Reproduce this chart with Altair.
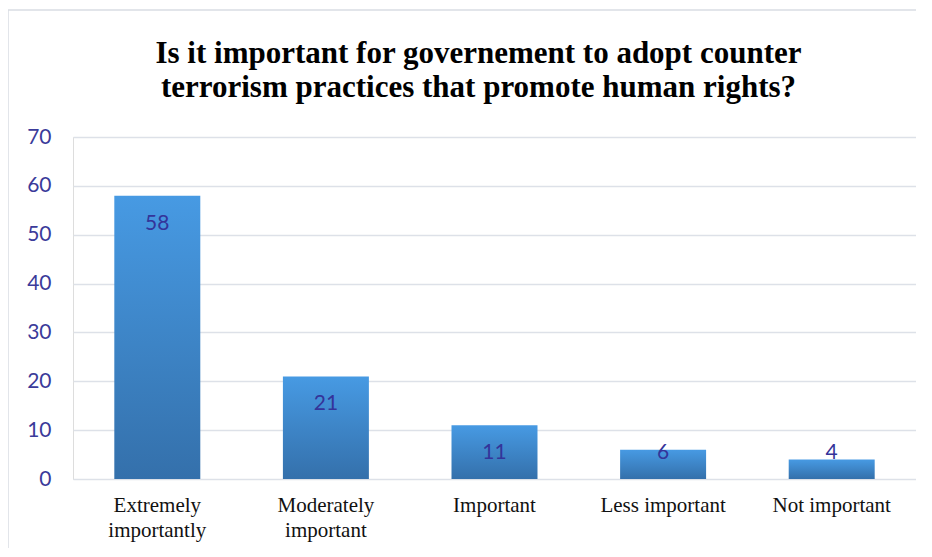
import altair as alt
import pandas as pd

categories = ["Extremely|importantly", "Moderately|important", "Important", "Less important", "Not important"]
values = [58, 21, 11, 6, 4]
title_lines = ["Is it important for governement to adopt counter",
               "terrorism practices that promote human rights?"]

df = pd.DataFrame({"cat": categories, "val": values})

W, H = 843, 342

x = alt.X("cat:N", sort=categories, title=None,
          scale=alt.Scale(paddingInner=0.49, paddingOuter=0.245),
          axis=alt.Axis(labelExpr="split(datum.label, '|')", labelAngle=0,
                        labelFont="Liberation Serif", labelFontSize=21,
                        labelColor="#111111", labelPadding=15, ticks=False,
                        domain=False, labelLineHeight=25, labelBaseline="top"))
y = alt.Y("val:Q", title=None,
          scale=alt.Scale(domain=[0, 70]),
          axis=alt.Axis(values=[0, 10, 20, 30, 40, 50, 60, 70], ticks=False, domain=False,
                        labelFont="Lato", labelFontSize=21, labelColor="#3b3b9a",
                        labelPadding=22, gridColor="#dde1e8", gridWidth=1.5))

border = alt.Chart(df).mark_rect(fill="transparent", stroke="#d9dde3", strokeWidth=1.5).encode(
    x=alt.value(-65), x2=alt.value(W + 40), y=alt.value(-127), y2=alt.value(H + 120)
).transform_filter("datum.val == 58")

title0 = alt.Chart(df).transform_filter("datum.val == 58").mark_text(
    text=title_lines[0], font="Liberation Serif", fontSize=31, fontWeight="bold",
    color="#000000", align="center", baseline="alphabetic"
).encode(x=alt.value(W / 2 - 16), y=alt.value(-74))

title1 = alt.Chart(df).transform_filter("datum.val == 58").mark_text(
    text=title_lines[1], font="Liberation Serif", fontSize=31, fontWeight="bold",
    color="#000000", align="center", baseline="alphabetic"
).encode(x=alt.value(W / 2 - 16), y=alt.value(-40))

bars = alt.Chart(df).mark_bar(
    color=alt.Gradient(
        gradient="linear",
        stops=[alt.GradientStop(color="#479ae3", offset=0),
               alt.GradientStop(color="#3470ab", offset=1)],
        x1=0, x2=0, y1=0, y2=1,
    )
).encode(x=x, y=y)

labels = alt.Chart(df).transform_calculate(
    lp="max(datum.val - 5.73, 5.32)"
).mark_text(font="Lato", fontSize=21, color="#34349a", baseline="middle").encode(
    x=alt.X("cat:N", sort=categories),
    y=alt.Y("lp:Q"),
    text=alt.Text("val:Q"),
)

chart = alt.layer(border, title0, title1, bars, labels).properties(
    width=W, height=H,
    autosize=alt.AutoSizeParams(type="none"),
    padding={"left": 65, "top": 129, "right": 0, "bottom": 69},
).configure_view(stroke=None).configure(background="white")

chart.save("out.html", embed_options={"renderer": "svg", "actions": False})
